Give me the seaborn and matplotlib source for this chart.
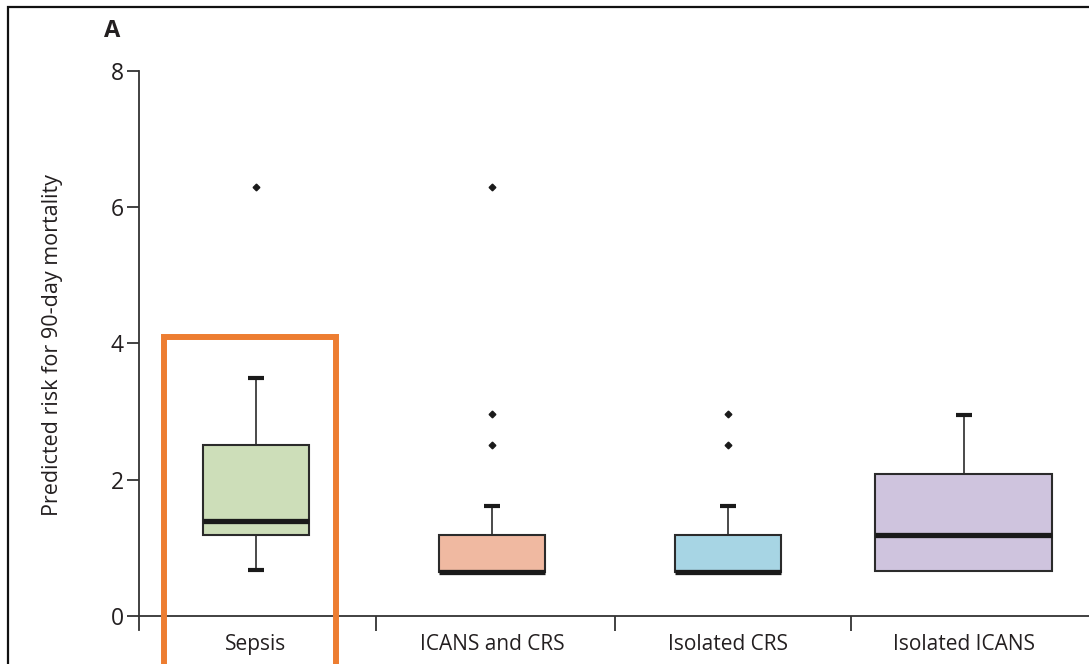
import matplotlib
matplotlib.use("Agg")
import matplotlib.pyplot as plt
from matplotlib.patches import Rectangle
import seaborn as sns
from matplotlib import font_manager

# ---- data ----
categories = ["Sepsis", "ICANS and CRS", "Isolated CRS", "Isolated ICANS"]
whisker_low = [0.68, 0.65, 0.65, 0.66]
q1 = [1.19, 0.65, 0.65, 0.66]
median = [1.40, 0.65, 0.65, 1.19]
q3 = [2.51, 1.19, 1.19, 2.09]
whisker_high = [3.50, 1.62, 1.62, 2.95]
outliers = [[6.3], [2.51, 2.97, 6.3], [2.51, 2.97], []]
y_ticks = [0, 2, 4, 6, 8]
y_label = "Predicted risk for 90-day mortality"
panel_label = "A"

colors = ["#cddeb9", "#f0b9a1", "#a7d5e4", "#cfc4de"]
box_widths = [0.45, 0.45, 0.45, 0.75]

sns.set_theme(style="ticks")
avail = {f.name for f in font_manager.fontManager.ttflist}
fam = [f for f in ["Open Sans", "DejaVu Sans"] if f in avail]
plt.rcParams["font.family"] = fam

ink = "#231f20"
fig = plt.figure(figsize=(10.89, 6.64), dpi=100)
ax = fig.add_axes([139 / 1089, 34 / 664, 1 - 139 / 1089, (630 - 71) / 664])

stats = []
for i, c in enumerate(categories):
    stats.append(dict(label=c, whislo=whisker_low[i], q1=q1[i], med=median[i],
                      q3=q3[i], whishi=whisker_high[i], fliers=outliers[i]))

art = ax.bxp(stats, positions=list(range(len(categories))), widths=box_widths,
             patch_artist=True, showfliers=True, capwidths=0.068,
             boxprops=dict(edgecolor="#2b2b2b", linewidth=1.5),
             medianprops=dict(color="#1a1a1a", linewidth=3.8, solid_capstyle="butt"),
             whiskerprops=dict(color="#2b2b2b", linewidth=1.2),
             capprops=dict(color="#1a1a1a", linewidth=3.0, solid_capstyle="butt"),
             flierprops=dict(marker="D", markersize=3.4, markerfacecolor="#1a1a1a",
                             markeredgecolor="#1a1a1a"))
for patch, col in zip(art["boxes"], colors):
    patch.set_facecolor(col)
# hide lower whisker/cap when it coincides with the box bottom
for i in range(len(categories)):
    if whisker_low[i] >= q1[i]:
        art["caps"][2 * i].set_visible(False)
        art["whiskers"][2 * i].set_visible(False)

ax.set_xlim(-0.495, 3.53)
ax.set_ylim(-0.206, 8)
sns.despine(ax=ax, top=True, right=True)
ax.spines["bottom"].set_position(("data", 0))
for s in ["left", "bottom"]:
    ax.spines[s].set_color("#333333")
    ax.spines[s].set_linewidth(1.3)

ax.set_yticks(y_ticks)
ax.set_yticklabels([str(v) for v in y_ticks], fontsize=16.5, color=ink)
ax.tick_params(axis="y", length=9, width=1.3, color="#333333", pad=2)

ax.set_xticks(range(len(categories)))
ax.set_xticklabels(categories, fontsize=15, color=ink)
ax.tick_params(axis="x", which="major", length=0, pad=13)
ax.set_xticks([0.51, 1.52, 2.52], minor=True)
ax.tick_params(axis="x", which="minor", length=11, width=1.3, color="#333333", direction="out")

ax.set_ylabel(y_label, fontsize=15.5, color=ink)
ax.yaxis.set_label_coords(-0.08, 0.51)
ax.grid(False)

# highlight rectangle around Sepsis
ax.add_patch(Rectangle((-0.39, -2.0), 0.73, 4.09 + 2.0, fill=False,
                       edgecolor="#ed7d31", linewidth=4.3, clip_on=False, zorder=5))

fig.text(112 / 1089, 1 - 31 / 664, panel_label, fontsize=17, fontweight="bold",
         color=ink, ha="center", va="center")

# frame of the figure panel (left and top visible)
fig.add_artist(Rectangle((8 / 1089, -0.1), 1.2, 1 - 7 / 664 + 0.1, transform=fig.transFigure,
                         fill=False, edgecolor="#111111", linewidth=1.6))

fig.savefig("out.png", dpi=100)
